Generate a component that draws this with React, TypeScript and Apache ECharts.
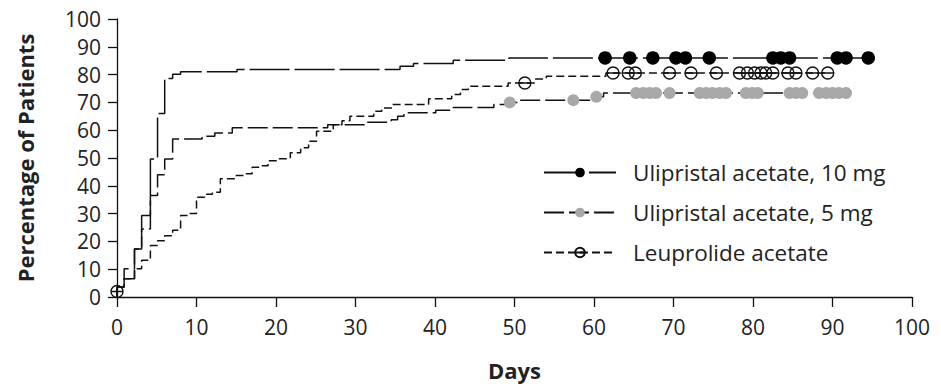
import React, { useEffect, useRef } from "react";
import * as echarts from "echarts";

// ---- data (days, percentage of patients) ----
const xTicks = [0, 10, 20, 30, 40, 50, 60, 70, 80, 90, 100];
const seriesNames = ["Ulipristal acetate, 10 mg", "Ulipristal acetate, 5 mg", "Leuprolide acetate"];

const tenMgSteps: [number, number][] = [
  [0, 0], [0, 3.6], [0.9, 10.2], [2.2, 17.3], [3.1, 29.3], [4.2, 49.6], [5.1, 66], [6.0, 78.6],
  [7.0, 80.1], [8.0, 81.0], [15.1, 81.8], [35.6, 83.0], [37.3, 84.0], [42.3, 85.2], [49.3, 86.0],
];
const tenMgCensored: [number, number][] = [
  [61.4, 86], [64.5, 86], [67.4, 86], [70.3, 86], [71.5, 86], [74.5, 86],
  [82.5, 86], [83.5, 86], [84.6, 86], [90.6, 86], [91.7, 86], [94.5, 86],
];

const fiveMgSteps: [number, number][] = [
  [0, 0], [0, 3.6], [0.9, 6.6], [2.2, 17.3], [3.1, 24.5], [4.2, 36.5], [5.1, 44], [6.0, 49.6],
  [7.0, 56.8], [10.7, 57.8], [12.3, 59.0], [14.5, 60.9], [26.5, 62.0], [31.5, 62.9], [34.5, 63.8],
  [35.3, 65.0], [36.1, 66.3], [40.1, 67.2], [42.3, 68.2], [47.4, 69.2], [48.9, 70.0], [50.5, 70.8],
  [59.8, 72.0], [61.2, 73.4],
];
const fiveMgCensored: [number, number][] = [
  [49.4, 70.0], [57.4, 70.8], [60.3, 72.0],
  [65.3, 73.4], [66.2, 73.4], [67.0, 73.4], [67.8, 73.4], [69.5, 73.4],
  [73.3, 73.4], [74.1, 73.4], [74.9, 73.4], [75.8, 73.4], [76.6, 73.4],
  [79.1, 73.4], [79.9, 73.4], [80.6, 73.4],
  [84.6, 73.4], [85.4, 73.4], [86.2, 73.4],
  [88.3, 73.4], [89.2, 73.4], [90.0, 73.4], [90.8, 73.4], [91.7, 73.4],
];

const leuprolideSteps: [number, number][] = [
  [0, 0], [0, 3.6], [0.9, 6.6], [2.2, 10.2], [3.1, 13.2], [4.2, 18.5], [5.1, 20.2], [6.0, 22.0],
  [7.0, 24.0], [8.0, 29.3], [9.0, 30.0], [10.0, 35.9], [11.0, 37.0], [12.0, 37.7], [13.0, 42.5],
  [15.0, 43.7], [16.0, 44.3], [17.0, 46.7], [18.0, 47.2], [19.0, 49.0], [20.2, 49.7], [21.8, 51.9],
  [23.1, 53.7], [24.1, 56.0], [25.1, 59.6], [27.2, 62.0], [28.3, 63.4], [29.3, 65.0], [32.3, 66.8],
  [33.3, 68.0], [34.6, 69.2], [39.2, 71.3], [42.1, 72.8], [43.2, 74.6], [44.2, 75.8], [49.2, 77.0],
  [52.5, 78.4], [54.0, 79.4], [61.5, 80.6],
];
const leuprolideCensored: [number, number][] = [
  [0, 2], [51.3, 77.0],
  [62.4, 80.6], [64.3, 80.6], [65.2, 80.6], [69.5, 80.6], [72.2, 80.6], [75.4, 80.6],
  [78.3, 80.6], [79.3, 80.6], [80.2, 80.6], [81.0, 80.6], [81.6, 80.6], [82.5, 80.6],
  [84.4, 80.6], [85.4, 80.6], [87.5, 80.6], [89.4, 80.6],
];

const TEXT = "#222";
const FONT = "'Open Sans', 'Noto Sans', sans-serif";
const CIRCLE_LINE = "path://M0,6 A6,6 0 1 1 12,6 A6,6 0 1 1 0,6 Z M0,6 L12,6";

function buildData(steps: [number, number][], censored: [number, number][]) {
  const items = [
    ...steps.map((v) => ({ value: v, symbol: "none" as string | undefined })),
    ...censored.map((v) => ({ value: v, symbol: undefined as string | undefined })),
  ];
  items.sort((a, b) => a.value[0] - b.value[0] || a.value[1] - b.value[1]);
  return items.map((it) => (it.symbol ? { value: it.value, symbol: it.symbol } : { value: it.value }));
}

export default function App() {
  const ref = useRef<HTMLDivElement>(null);
  useEffect(() => {
    if (!ref.current) return;
    const chart = echarts.init(ref.current, undefined, { renderer: "svg" });
    const lineBase = { width: 1.5, color: "#111" };
    chart.setOption({
      animation: false,
      backgroundColor: "#fff",
      textStyle: { fontFamily: FONT },
      grid: { left: 117, right: 29, top: 19, bottom: 90, containLabel: false },
      legend: {
        orient: "vertical",
        left: 543,
        top: 161,
        padding: 0,
        itemWidth: 72,
        itemHeight: 12,
        itemGap: 17,
        data: seriesNames,
        textStyle: { fontSize: 22.5, lineHeight: 23, color: TEXT, fontFamily: FONT, padding: [0, 0, 0, 12] },
        selectedMode: false,
      },
      xAxis: {
        type: "value",
        min: 0,
        max: 100,
        interval: 10,
        name: "Days",
        nameLocation: "middle",
        nameGap: 62,
        nameTextStyle: { fontSize: 22, fontWeight: "bold", color: TEXT, fontFamily: FONT },
        axisLine: { show: true, lineStyle: { color: "#111", width: 1.3 } },
        axisTick: { show: true, length: 10, lineStyle: { color: "#111", width: 1.3 } },
        axisLabel: {
          fontSize: 21, color: TEXT, margin: 19, fontFamily: FONT,
          formatter: (v: number) => (xTicks.includes(v) ? String(v) : ""),
        },
        splitLine: { show: false },
      },
      yAxis: {
        type: "value",
        min: 0,
        max: 100,
        interval: 10,
        name: "Percentage of Patients",
        nameLocation: "middle",
        nameGap: 81,
        nameTextStyle: { fontSize: 22, fontWeight: "bold", color: TEXT, fontFamily: FONT },
        axisLine: { show: true, lineStyle: { color: "#111", width: 1.3 } },
        axisTick: { show: true, length: 9, lineStyle: { color: "#111", width: 1.3 } },
        axisLabel: { fontSize: 21, color: TEXT, margin: 16, fontFamily: FONT },
        splitLine: { show: false },
      },
      series: [
        {
          name: seriesNames[1],
          type: "line",
          step: "end",
          showAllSymbol: true,
          symbol: "circle",
          symbolSize: 12,
          itemStyle: { color: "#a8a8a8", borderWidth: 0 },
          lineStyle: { ...lineBase, type: [20, 5] },
          data: buildData(fiveMgSteps, fiveMgCensored),
          z: 2,
        },
        {
          name: seriesNames[2],
          type: "line",
          step: "end",
          showAllSymbol: true,
          symbol: CIRCLE_LINE,
          symbolSize: 12,
          itemStyle: { color: "rgba(0,0,0,0)", borderColor: "#111", borderWidth: 1.4 },
          lineStyle: { ...lineBase, type: [8, 4] },
          data: buildData(leuprolideSteps, leuprolideCensored),
          z: 3,
        },
        {
          name: seriesNames[0],
          type: "line",
          step: "end",
          showAllSymbol: true,
          symbol: "circle",
          symbolSize: 13.5,
          itemStyle: { color: "#000", borderWidth: 0 },
          lineStyle: { ...lineBase, type: [40, 5] },
          data: buildData(tenMgSteps, tenMgCensored),
          z: 4,
        },
      ],
    });
    return () => chart.dispose();
  }, []);
  return <div ref={ref} style={{ width: 941, height: 387, position: "absolute", left: 0, top: 0 }} />;
}
